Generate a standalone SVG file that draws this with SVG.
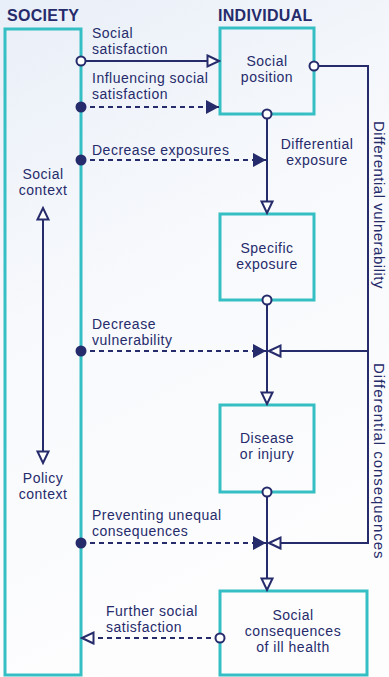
<svg xmlns="http://www.w3.org/2000/svg" width="389" height="677" viewBox="0 0 389 677">
<defs>
<linearGradient id="bg" x1="0" y1="0" x2="0.3" y2="1">
<stop offset="0" stop-color="#e9eff8"/>
<stop offset="0.45" stop-color="#f7f9fc"/>
<stop offset="1" stop-color="#fdfdfe"/>
</linearGradient>
<marker id="openArrow" markerUnits="userSpaceOnUse" markerWidth="16" markerHeight="16" viewBox="0 0 16 16" refX="14" refY="8" orient="auto-start-reverse">
<path d="M2.5,2.5 L14,8 L2.5,13.5 Z" fill="#ffffff" stroke="#262b6b" stroke-width="2" stroke-linejoin="miter"/>
</marker>
<marker id="filledArrow" markerUnits="userSpaceOnUse" markerWidth="16" markerHeight="16" viewBox="0 0 16 16" refX="14" refY="8" orient="auto">
<path d="M1,1 L14,8 L1,15 Z" fill="#262b6b"/>
</marker>
</defs>
<style>
text{font-family:"Liberation Sans",Arial,sans-serif;fill:#262b6b;font-size:14px;letter-spacing:0.5px}
.title{font-weight:bold;font-size:16px;letter-spacing:0.3px}
.mid{text-anchor:middle}
.vert{font-size:15px}
.box{fill:none;stroke:#35bfc4;stroke-width:3}
.ln{fill:none;stroke:#262b6b;stroke-width:2}
.dash{fill:none;stroke:#262b6b;stroke-width:2;stroke-dasharray:5 4}
.oc{fill:#ffffff;stroke:#262b6b;stroke-width:2}
.fc{fill:#262b6b}
</style>
<rect x="0" y="0" width="389" height="677" fill="url(#bg)"/>

<g id="society">
<rect class="box" x="5" y="29" width="76" height="646"/>
<text class="title" x="7" y="21">SOCIETY</text>
<text class="mid" x="43" y="179">Social</text>
<text class="mid" x="43" y="195">context</text>
<text class="mid" x="43" y="483">Policy</text>
<text class="mid" x="43" y="499">context</text>
</g>

<g id="individual-title">
<text class="title" x="218" y="21">INDIVIDUAL</text>
</g>

<g id="social-position">
<rect class="box" x="220" y="28" width="94" height="86"/>
<text class="mid" x="267" y="66">Social</text>
<text class="mid" x="267" y="82">position</text>
</g>

<g id="specific-exposure">
<rect class="box" x="220" y="214" width="94" height="86"/>
<text class="mid" x="267" y="253">Specific</text>
<text class="mid" x="267" y="269">exposure</text>
</g>

<g id="disease">
<rect class="box" x="220" y="405" width="94" height="87"/>
<text class="mid" x="267" y="443">Disease</text>
<text class="mid" x="267" y="459">or injury</text>
</g>

<g id="social-consequences">
<rect class="box" x="220" y="591" width="147" height="84"/>
<text class="mid" x="293" y="620">Social</text>
<text class="mid" x="293" y="636">consequences</text>
<text class="mid" x="293" y="652">of ill health</text>
</g>

<g id="connectors">
<line class="ln" x1="43" y1="208" x2="43" y2="463" marker-start="url(#openArrow)" marker-end="url(#openArrow)"/>

<line class="ln" x1="81" y1="61" x2="219" y2="61" marker-end="url(#openArrow)"/>
<circle class="oc" cx="81" cy="61" r="4.5"/>
<text x="92" y="38">Social</text>
<text x="92" y="54">satisfaction</text>

<line class="dash" x1="81" y1="107" x2="219" y2="107" marker-end="url(#filledArrow)"/>
<circle class="fc" cx="81" cy="107" r="5.5"/>
<text x="92" y="83">Influencing social</text>
<text x="92" y="99">satisfaction</text>

<line class="ln" x1="267" y1="114" x2="267" y2="213" marker-end="url(#openArrow)"/>
<circle class="oc" cx="267" cy="114" r="4.5"/>
<text class="mid" x="317" y="149">Differential</text>
<text class="mid" x="317" y="165">exposure</text>

<line class="ln" x1="267" y1="300" x2="267" y2="404" marker-end="url(#openArrow)"/>
<circle class="oc" cx="267" cy="300" r="4.5"/>

<line class="ln" x1="267" y1="492" x2="267" y2="590" marker-end="url(#openArrow)"/>
<circle class="oc" cx="267" cy="492" r="4.5"/>

<line class="dash" x1="81" y1="160" x2="266" y2="160" marker-end="url(#filledArrow)"/>
<circle class="fc" cx="81" cy="160" r="5.5"/>
<text x="92" y="155">Decrease exposures</text>

<path class="ln" d="M314,66 H368 V351 H269" marker-end="url(#openArrow)"/>
<path class="ln" d="M368,351 V543 H269" marker-end="url(#openArrow)"/>
<circle class="oc" cx="314" cy="66" r="4.5"/>
<text class="mid vert" transform="translate(374,205) rotate(90)" textLength="168" lengthAdjust="spacing">Differential vulnerability</text>
<text class="mid vert" transform="translate(374,461) rotate(90)" textLength="196" lengthAdjust="spacing">Differential consequences</text>

<line class="dash" x1="81" y1="351" x2="266" y2="351" marker-end="url(#filledArrow)"/>
<circle class="fc" cx="81" cy="351" r="5.5"/>
<text x="92" y="329">Decrease</text>
<text x="92" y="345">vulnerability</text>

<line class="dash" x1="81" y1="543" x2="266" y2="543" marker-end="url(#filledArrow)"/>
<circle class="fc" cx="81" cy="543" r="5.5"/>
<text x="92" y="520">Preventing unequal</text>
<text x="92" y="536">consequences</text>

<line class="dash" x1="220" y1="638" x2="82" y2="638" marker-end="url(#openArrow)"/>
<circle class="oc" cx="220" cy="638" r="4.5"/>
<text x="106" y="616">Further social</text>
<text x="106" y="632">satisfaction</text>
</g>
</svg>
